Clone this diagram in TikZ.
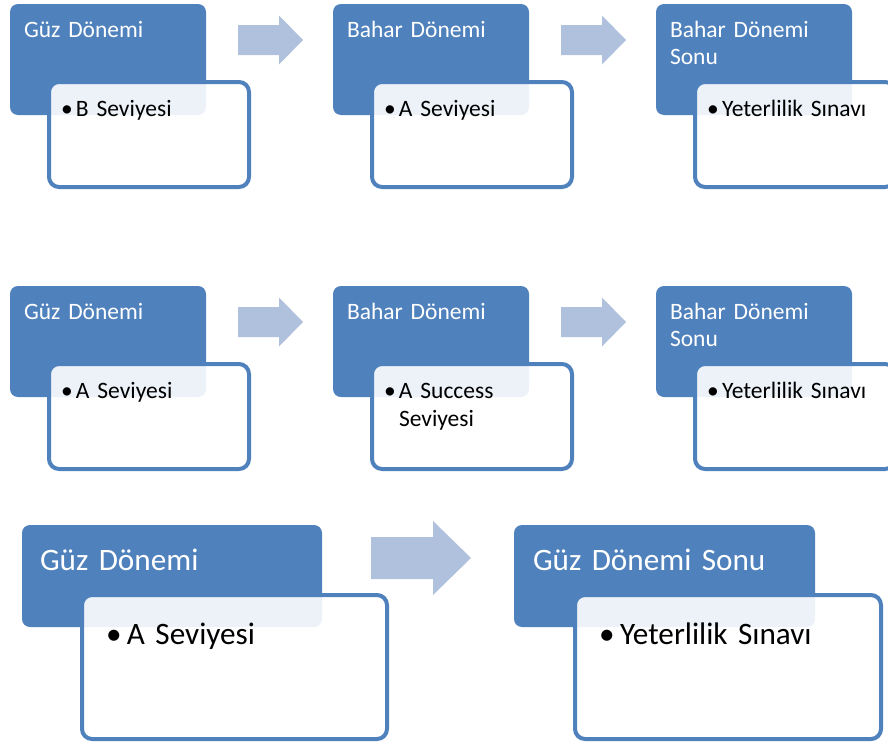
\documentclass[tikz,border=0pt]{standalone}
\usepackage{fontspec}
\setmainfont{Carlito}
\usetikzlibrary{positioning,calc}
\definecolor{mavi}{HTML}{4F81BD}
\definecolor{acikmavi}{HTML}{B0C1DD}
\newcommand{\madde}[2]{\hyphenpenalty=10000\hangindent=#1\hangafter=1\noindent\makebox[#1][l]{\textbullet}#2\par}

\tikzset{
	donem/.style={fill=mavi, text=white, rounded corners=8pt, anchor=north west, align=left, outer sep=0pt,
		inner xsep=14pt, inner ysep=0pt, text width=168pt, text height=33pt, text depth=78pt,
		font=\fontsize{23.5}{27.5}\selectfont},
	seviye/.style={draw=mavi, line width=4pt, fill=white, fill opacity=0.9, text opacity=1, outer sep=0pt,
		rounded corners=10pt, anchor=north west, align=left, text=black,
		inner xsep=12pt, inner ysep=0pt, text width=176pt, text height=34pt, text depth=71pt,
		font=\fontsize{23.5}{28}\selectfont},
	buyukdonem/.style={donem, inner xsep=18pt, text width=264pt, text height=45pt, text depth=57pt,
		font=\fontsize{31.2}{38}\selectfont},
	buyukseviye/.style={seviye, inner xsep=24pt, text width=257pt, text height=49pt, text depth=95pt,
		font=\fontsize{31.2}{38}\selectfont},
	ok/.style={fill=acikmavi}
}

\begin{document}
\begin{tikzpicture}[x=1pt, y=-1pt]
	\clip (0,0) rectangle (888,747);
	
	% birinci satir
	\node[donem] (d11) at (10,4) {Güz Dönemi};
	\node[donem] (d12) at (333,4) {Bahar Dönemi};
	\node[donem] (d13) at (656,4) {Bahar Dönemi\\Sonu};
	\node[seviye] (s11) at (49,82) {\madde{15pt}{B Seviyesi}};
	\node[seviye] (s12) at (372,82) {\madde{15pt}{A Seviyesi}};
	\node[seviye] (s13) at (695,82) {\madde{15pt}{Yeterlilik Sınavı}};
	
	\coordinate (o11) at (238,40);
	\coordinate (o12) at (561,40);
	\fill[ok] (o11) ++(0,-15) -- ++(41,0) -- ++(0,-9.5) -- ++(24,24.5) -- ++(-24,24.5) -- ++(0,-9.5) -- ++(-41,0) -- cycle;
	\fill[ok] (o12) ++(0,-15) -- ++(41,0) -- ++(0,-9.5) -- ++(24,24.5) -- ++(-24,24.5) -- ++(0,-9.5) -- ++(-41,0) -- cycle;
	
	% ikinci satir
	\node[donem] (d21) at (10,286) {Güz Dönemi};
	\node[donem] (d22) at (333,286) {Bahar Dönemi};
	\node[donem] (d23) at (656,286) {Bahar Dönemi\\Sonu};
	\node[seviye] (s21) at (49,364) {\madde{15pt}{A Seviyesi}};
	\node[seviye] (s22) at (372,364) {\madde{15pt}{A Success \mbox{Seviyesi}}};
	\node[seviye] (s23) at (695,364) {\madde{15pt}{Yeterlilik Sınavı}};
	
	\coordinate (o21) at (238,322);
	\coordinate (o22) at (561,322);
	\fill[ok] (o21) ++(0,-15) -- ++(41,0) -- ++(0,-9.5) -- ++(24,24.5) -- ++(-24,24.5) -- ++(0,-9.5) -- ++(-41,0) -- cycle;
	\fill[ok] (o22) ++(0,-15) -- ++(41,0) -- ++(0,-9.5) -- ++(24,24.5) -- ++(-24,24.5) -- ++(0,-9.5) -- ++(-41,0) -- cycle;
	
	% ucuncu satir
	\node[buyukdonem] (d31) at (22,525) {Güz Dönemi};
	\node[buyukdonem, inner xsep=19pt, text width=263pt] (d32) at (514,525) {Güz Dönemi Sonu};
	\node[buyukseviye] (s31) at (82,595) {\madde{21pt}{A Seviyesi}};
	\node[buyukseviye, text width=258pt] (s32) at (575,595) {\madde{21pt}{Yeterlilik Sınavı}};
	
	\coordinate (o31) at (371,558);
	\fill[ok] (o31) ++(0,-21) -- ++(62,0) -- ++(0,-16) -- ++(38,37) -- ++(-38,37) -- ++(0,-16) -- ++(-62,0) -- cycle;
\end{tikzpicture}
\end{document}
